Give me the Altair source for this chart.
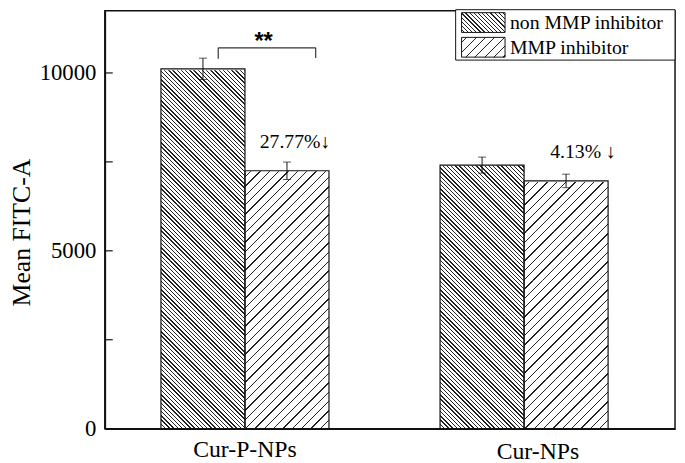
import math
import altair as alt
import pandas as pd

# ---- data ----
categories = ["Cur-P-NPs", "Cur-P-NPs", "Cur-NPs", "Cur-NPs"]
groups = ["non MMP inhibitor", "MMP inhibitor", "non MMP inhibitor", "MMP inhibitor"]
means = [10115, 7250, 7410, 6965]
errors = [300, 245, 225, 190]
cat_order = ["Cur-P-NPs", "Cur-NPs"]
group_order = ["non MMP inhibitor", "MMP inhibitor"]
y_ticks = [2500, 5000, 7500, 10000]
y_labels = [0, 5000, 10000]

df = pd.DataFrame({"cat": categories, "group": groups, "mean": means, "err": errors})
ticks_df = pd.DataFrame({"v": y_ticks})

# ---- layout constants ----
W, H = 577, 423
YMAX = 11750
PX = H / YMAX
P_IN, P_OUT, ALIGN = 0.398, 0.2204, 0.456
STEP = W / (2 - P_IN + 2 * P_OUT)
BAR_W = STEP * (1 - P_IN) / 2
INK = "#222222"
SERIF = "Liberation Serif, DejaVu Sans"


def grad(w, h, back, stops):
    L = w + h
    c = L / (w * w + h * h)
    if back:  # "\\" lines
        return {"gradient": "linear", "x1": 0, "y1": 1, "x2": c * w, "y2": 1 - c * h, "stops": stops}
    return {"gradient": "linear", "x1": 0, "y1": 0, "x2": c * w, "y2": c * h, "stops": stops}


def grid_stops(k, phase):
    """100-cell grid along the gradient; a 1-cell dark line every k cells."""
    stops = [{"offset": 0, "color": "white"}]
    for n in range(100):
        if (n - phase) % k == 0:
            a, b = n / 100, (n + 1) / 100
            stops += [{"offset": a, "color": "white"}, {"offset": a, "color": INK},
                      {"offset": b, "color": INK}, {"offset": b, "color": "white"}]
    stops.append({"offset": 1, "color": "white"})
    return stops


def legend_hatch(w, h, s, back, lw=1.2):
    L = w + h
    stops = [{"offset": 0, "color": "white"}]
    v = s / 2
    while v + lw < L:
        a, b = v / L, (v + lw) / L
        stops += [{"offset": a, "color": "white"}, {"offset": a, "color": INK},
                  {"offset": b, "color": INK}, {"offset": b, "color": "white"}]
        v += s
    stops.append({"offset": 1, "color": "white"})
    return grad(w, h, back, stops)


# grid cells: bar width = m cells, line every k cells, slice height = 100 - m cells
HATCH = {"non MMP inhibitor": (60, 3, True), "MMP inhibitor": (63, 7, False)}

rows, conds = [], []
for i, (cat, grp, m_val) in enumerate(zip(categories, groups, means)):
    m, k, back = HATCH[grp]
    g = BAR_W / m
    hc_idx = 100 - m
    hc = hc_idx * g
    hpx = m_val * PX
    n = math.ceil(hpx / hc)
    for j in range(n):
        b_idx = j * hc_idx if j < n - 1 else math.floor((hpx - hc) / g)
        b = b_idx * g
        phase = (-b_idx) % k if back else (hc_idx + b_idx) % k
        pid = f"{i}-{j}"
        rows.append({"cat": cat, "group": grp, "lo": b / PX, "hi": (b + hc) / PX, "pid": pid})
        conds.append({"test": f"datum.pid === '{pid}'", "value": grad(BAR_W, hc, back, grid_stops(k, phase))})
pieces = pd.DataFrame(rows)
slice_fill = {"condition": conds[:-1], "value": conds[-1]["value"]}

x_enc = alt.X("cat:N", sort=cat_order,
              scale=alt.Scale(domain=cat_order, paddingInner=P_IN, paddingOuter=P_OUT, align=ALIGN),
              axis=alt.Axis(title=None, labelAngle=0, labelFontSize=24,
                            labelPadding={"condition": {"test": "datum.value === 'Cur-NPs'", "value": 11}, "value": 9},
                            labelOffset={"condition": {"test": "datum.value === 'Cur-NPs'", "value": 14}, "value": 0}))
xo_enc = alt.XOffset("group:N", sort=group_order,
                     scale=alt.Scale(domain=group_order, paddingInner=0, paddingOuter=0))
y_scale = alt.Scale(domain=[0, YMAX], nice=False, zero=True)
xs = alt.X("cat:N", sort=cat_order)
xos = alt.XOffset("group:N", sort=group_order)

slices = alt.Chart(pieces).mark_bar(strokeWidth=0).encode(
    x=x_enc, xOffset=xo_enc,
    y=alt.Y("lo:Q", scale=y_scale,
            axis=alt.Axis(values=y_labels, format="d", labelFontSize=23, labelPadding=9,
                          title="Mean FITC-A", titleFontSize=26, titleFontWeight="normal",
                          titleX=-76, titleY=224, titleBaseline="alphabetic", titleAngle=270,
                          titleAlign="center")),
    y2="hi:Q",
    fill=slice_fill,
)

base = alt.Chart(df)
outline = base.mark_bar(fill="white", fillOpacity=0, stroke="#111", strokeWidth=1.2).encode(
    x=xs, xOffset=xos, y="mean:Q")

err_base = base.transform_calculate(lo="datum.mean - datum.err", hi="datum.mean + datum.err")
err_rule = err_base.mark_rule(color="#111", strokeWidth=1).encode(x=xs, xOffset=xos, y="lo:Q", y2="hi:Q")
cap_lo = err_base.mark_tick(color="#111", thickness=1, size=8, orient="horizontal").encode(
    x=xs, xOffset=xos, y="lo:Q")
cap_hi = err_base.mark_tick(color="#111", thickness=1, size=8, orient="horizontal").encode(
    x=xs, xOffset=xos, y="hi:Q")

inner_ticks = alt.Chart(ticks_df).mark_rule(color="#111", strokeWidth=1.2).encode(
    x=alt.value(0), x2=alt.value(8), y="v:Q")

ann = alt.Chart(pd.DataFrame({"a": [0]}))
br_h = ann.mark_rule(color="#333", strokeWidth=1.2).encode(
    x=alt.X(datum="Cur-P-NPs", bandPosition=0.341), x2=alt.X2(datum="Cur-P-NPs", bandPosition=0.921),
    y=alt.Y(datum=10705))
br_l = ann.mark_rule(color="#333", strokeWidth=1.2).encode(
    x=alt.X(datum="Cur-P-NPs", bandPosition=0.341), y=alt.Y(datum=10705), y2=alt.Y2(datum=10400))
br_r = ann.mark_rule(color="#333", strokeWidth=1.2).encode(
    x=alt.X(datum="Cur-P-NPs", bandPosition=0.921), y=alt.Y(datum=10705), y2=alt.Y2(datum=10420))

stars = ann.mark_text(text="**", font="Liberation Sans", fontWeight="bold", fontSize=24,
                      baseline="alphabetic", color="black").encode(
    x=alt.X(datum="Cur-P-NPs", bandPosition=0.611), y=alt.Y(datum=10680))
pct1 = ann.mark_text(text="27.77%↓", font=SERIF, fontSize=20,
                     baseline="middle", color="black").encode(
    x=alt.X(datum="Cur-P-NPs", bandPosition=0.798), y=alt.Y(datum=8050))
pct2 = ann.mark_text(text="4.13% ↓", font=SERIF, fontSize=20,
                     baseline="middle", color="black").encode(
    x=alt.X(datum="Cur-NPs", bandPosition=0.851), y=alt.Y(datum=7764))

# ---- hand-built legend (top-right box) ----
leg_box = ann.mark_rect(fill="white", stroke="#111", strokeWidth=1).encode(
    x=alt.value(355), x2=alt.value(577), y=alt.value(-1), y2=alt.value(50))
leg_sym1 = ann.mark_rect(stroke="#111", strokeWidth=1, fill=legend_hatch(44, 20, 4.2, True)).encode(
    x=alt.value(361), x2=alt.value(405), y=alt.value(2), y2=alt.value(22))
leg_sym2 = ann.mark_rect(stroke="#111", strokeWidth=1, fill=legend_hatch(44, 20, 9.5, False)).encode(
    x=alt.value(361), x2=alt.value(405), y=alt.value(27), y2=alt.value(47))
leg_txt1 = ann.mark_text(text=group_order[0], font=SERIF, fontSize=20, align="left",
                         baseline="middle", color="black").encode(x=alt.value(410), y=alt.value(13))
leg_txt2 = ann.mark_text(text=group_order[1], font=SERIF, fontSize=20, align="left",
                         baseline="middle", color="black").encode(x=alt.value(410), y=alt.value(38))

chart = alt.layer(slices, outline, err_rule, cap_lo, cap_hi, inner_ticks,
                  br_h, br_l, br_r, stars, pct1, pct2,
                  leg_box, leg_sym1, leg_sym2, leg_txt1, leg_txt2).properties(
    width=W, height=H,
    autosize=alt.AutoSizeParams(type="none"),
    padding={"left": 98, "top": 0, "right": 2, "bottom": 32},
).configure_view(stroke="#111", strokeWidth=1.5).configure_axis(
    labelFont=SERIF, titleFont=SERIF, labelColor="black",
    titleColor="black", domainColor="#111", domainWidth=1.6, grid=False, ticks=False,
)

chart.save("out.html", embed_options={"renderer": "svg", "actions": False})
